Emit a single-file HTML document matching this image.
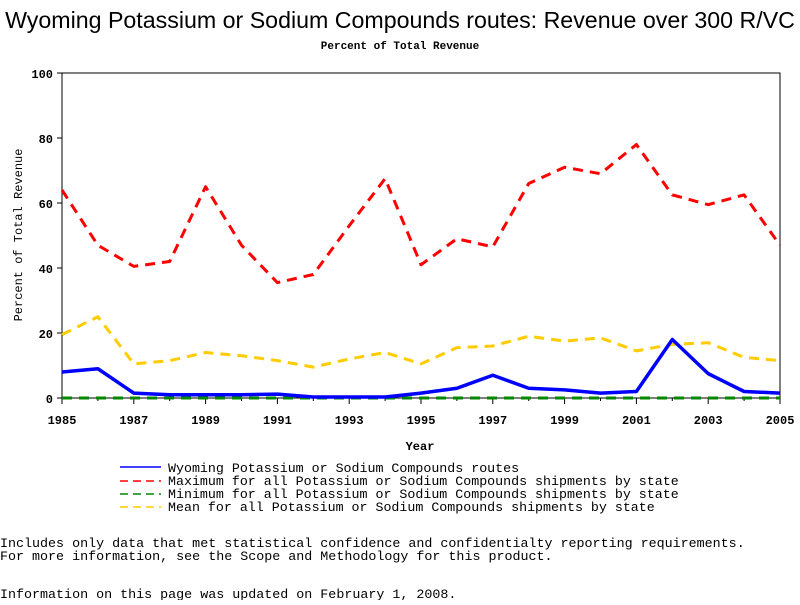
<!DOCTYPE html>
<html><head><meta charset="utf-8"><style>
body{margin:0;background:#fff;width:800px;height:600px;overflow:hidden}
svg text{font-family:"Liberation Mono",monospace}
</style></head><body>
<svg id="s" width="800" height="600" xmlns="http://www.w3.org/2000/svg">
<text x="400" y="28" text-anchor="middle" style="font-family:'Liberation Sans',sans-serif" font-size="23.2">Wyoming Potassium or Sodium Compounds routes: Revenue over 300 R/VC</text>
<text x="400" y="49" text-anchor="middle" font-size="11" font-weight="bold">Percent of Total Revenue</text>
<g id="g"></g>
<text x="0" y="0" transform="translate(22,235) rotate(-90)" text-anchor="middle" font-size="12">Percent of Total Revenue</text>
<text x="420" y="450" text-anchor="middle" font-size="12" font-weight="bold">Year</text>
<line x1="120" y1="467" x2="161" y2="467" stroke="#00f" stroke-width="1.5"/>
<line x1="120" y1="481" x2="161" y2="481" stroke="#f00" stroke-width="1.5" stroke-dasharray="8,5"/>
<line x1="120" y1="494" x2="161" y2="494" stroke="#080" stroke-width="1.5" stroke-dasharray="8,5"/>
<line x1="120" y1="507" x2="161" y2="507" stroke="#fc0" stroke-width="1.5" stroke-dasharray="8,5"/>
<text x="168" y="472" font-size="13.3">Wyoming Potassium or Sodium Compounds routes</text>
<text x="168" y="485" font-size="13.3">Maximum for all Potassium or Sodium Compounds shipments by state</text>
<text x="168" y="498" font-size="13.3">Minimum for all Potassium or Sodium Compounds shipments by state</text>
<text x="168" y="511" font-size="13.3">Mean for all Potassium or Sodium Compounds shipments by state</text>
<text x="0" y="547" font-size="13.35">Includes only data that met statistical confidence and confidentialty reporting requirements.</text>
<text x="0" y="560" font-size="13.35">For more information, see the Scope and Methodology for this product.</text>
<text x="0" y="598" font-size="13.35">Information on this page was updated on February 1, 2008.</text>
</svg>
<script>
var g=document.getElementById('g'),h='';
function X(i){return 62+i*35.9}function Y(v){return 398-v*3.25}
function pl(d,c,w,da){h+='<polyline fill="none" stroke="'+c+'" stroke-width="'+w+'"'+(da?' stroke-dasharray="'+da+'"':'')+' stroke-linejoin="round" points="'+d.map(function(v,i){return X(i)+','+Y(v)}).join(' ')+'"/>';}
h+='<rect x="62" y="73" width="718" height="325" fill="none" stroke="#000" stroke-width="1"/>';
for(var v=0;v<=100;v+=20){h+='<line x1="57" x2="62" y1="'+Y(v)+'" y2="'+Y(v)+'" stroke="#000"/><text x="53" y="'+(Y(v)+5)+'" text-anchor="end" font-size="12" font-weight="bold">'+v+'</text>';}
for(var i=0;i<=20;i++){h+='<line x1="'+X(i)+'" x2="'+X(i)+'" y1="398" y2="'+(i%2?401:404)+'" stroke="#000"/>';if(i%2==0)h+='<text x="'+X(i)+'" y="424" text-anchor="middle" font-size="12" font-weight="bold">'+(1985+i)+'</text>';}
pl([19.5,25,10.5,11.5,14,13,11.5,9.5,12,14,10.5,15.5,16,19,17.5,18.5,14.5,16.5,17,12.5,11.5],'#fc0',3,'10,7');
pl([64,47,40.5,42,65,47,35.5,38,53,67.5,41,49,46.5,66,71,69,78,62.5,59.5,62.5,47],'#f00',3,'10,7');
pl([0,0,0,0,0,0,0,0,0,0,0,0,0,0,0,0,0,0,0,0,0],'#080',3,'10,7');
pl([8,9,1.5,1,1,1,1.2,0.3,0.3,0.3,1.5,3,7,3,2.5,1.5,2,18,7.5,2,1.5],'#00f',3.5,'');
g.innerHTML=h;
</script>
</body></html>
